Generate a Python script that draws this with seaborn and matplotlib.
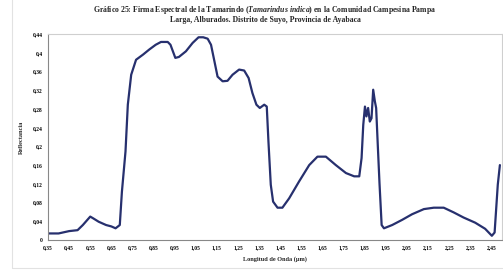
import numpy as np
import pandas as pd
import matplotlib
matplotlib.use("Agg")
import matplotlib.pyplot as plt
from matplotlib.ticker import FuncFormatter, FixedLocator
from matplotlib.patches import Rectangle
import seaborn as sns

sns.set_theme(style="white")
plt.rcParams['font.family'] = ['Liberation Serif', 'DejaVu Serif']
plt.rcParams['mathtext.fontset'] = 'custom'
plt.rcParams['mathtext.rm'] = 'Liberation Serif:bold'
plt.rcParams['mathtext.it'] = 'Liberation Serif:italic:bold'

# spectral signature (micrometres, reflectance)
wavelength = [0.35, 0.40, 0.45, 0.49, 0.515, 0.55, 0.565, 0.59, 0.625, 0.65,
              0.67, 0.69, 0.70, 0.717, 0.728, 0.744, 0.767, 0.80, 0.83, 0.86,
              0.885, 0.917, 0.93, 0.953, 0.97, 1.003, 1.035, 1.063, 1.085, 1.106,
              1.122, 1.138, 1.153, 1.177, 1.20, 1.224, 1.255, 1.279, 1.30, 1.318,
              1.337, 1.353, 1.374, 1.386, 1.394, 1.405, 1.416, 1.437, 1.46, 1.492,
              1.539, 1.587, 1.626, 1.666, 1.713, 1.761, 1.80, 1.824, 1.835, 1.843,
              1.851, 1.858, 1.866, 1.874, 1.882, 1.890, 1.898, 1.904, 1.912, 1.920,
              1.930, 1.941, 1.98, 2.027, 2.074, 2.13, 2.177, 2.224, 2.271, 2.318,
              2.373, 2.42, 2.452, 2.465, 2.48, 2.49]
reflectance = [0.014, 0.014, 0.019, 0.021, 0.032, 0.050, 0.046, 0.039, 0.032, 0.029,
               0.025, 0.032, 0.103, 0.189, 0.289, 0.353, 0.385, 0.396, 0.407, 0.417,
               0.423, 0.423, 0.417, 0.389, 0.391, 0.403, 0.421, 0.433, 0.433, 0.430,
               0.417, 0.382, 0.349, 0.339, 0.340, 0.353, 0.364, 0.362, 0.346, 0.314,
               0.289, 0.282, 0.289, 0.285, 0.210, 0.118, 0.082, 0.069, 0.069, 0.089,
               0.125, 0.160, 0.178, 0.178, 0.160, 0.143, 0.136, 0.136, 0.175, 0.246,
               0.285, 0.264, 0.282, 0.253, 0.260, 0.321, 0.296, 0.282, 0.200, 0.120,
               0.032, 0.025, 0.032, 0.043, 0.055, 0.066, 0.069, 0.069, 0.059, 0.048,
               0.037, 0.024, 0.009, 0.016, 0.118, 0.160]

x_ticks = [0.35, 0.45, 0.55, 0.65, 0.75, 0.85, 0.95, 1.05, 1.15, 1.25, 1.35,
           1.45, 1.55, 1.65, 1.75, 1.85, 1.95, 2.05, 2.15, 2.25, 2.35, 2.45]
y_ticks = [0, 0.04, 0.08, 0.12, 0.16, 0.2, 0.24, 0.28, 0.32, 0.36, 0.4, 0.44]

df = pd.DataFrame({'wl': wavelength, 'refl': reflectance})

fig = plt.figure(figsize=(5.03, 2.73), dpi=100)
ax = fig.add_axes([48/503, 33/273, 454/503, 206/273])

sns.lineplot(data=df, x='wl', y='refl', ax=ax, color='#27306e', linewidth=1.6)

ax.set_xlim(0.35, 2.5)
ax.set_ylim(0, 0.44)
ax.xaxis.set_major_locator(FixedLocator(x_ticks))
ax.yaxis.set_major_locator(FixedLocator(y_ticks))
comma = FuncFormatter(lambda v, p: ('%g' % round(v, 2)).replace('.', ','))
ax.xaxis.set_major_formatter(comma)
ax.yaxis.set_major_formatter(comma)
ax.tick_params(axis='both', labelsize=4, length=2, width=0.6, pad=2, colors='#555555')
for lab in ax.get_xticklabels() + ax.get_yticklabels():
    lab.set_fontweight('bold')
    lab.set_color('black')

for side in ['top', 'right']:
    ax.spines[side].set_color('#cfcfcf')
    ax.spines[side].set_linewidth(0.8)
for side in ['left', 'bottom']:
    ax.spines[side].set_color('#888888')
    ax.spines[side].set_linewidth(0.8)

ax.set_xlabel('Longitud de Onda (µm)', fontsize=4.5, fontweight='bold', labelpad=4)
ax.set_ylabel('Reflectancia', fontsize=4.5, fontweight='bold', labelpad=6)

fig.text(265/503, 1 - 10/273,
         'Gráfico 25: Firma Espectral de la Tamarindo ($\\it{Tamarindus\\ indica}$) en la Comunidad Campesina Pampa',
         ha='center', va='center', fontsize=5.6, fontweight='bold')
fig.text(265/503, 1 - 20/273,
         'Larga, Alburados. Distrito de Suyo, Provincia de Ayabaca',
         ha='center', va='center', fontsize=5.6, fontweight='bold')

# light chart-area frame
fig.patches.append(Rectangle((12/503, 5/273), 1.0, 1.0, transform=fig.transFigure,
                             fill=False, edgecolor='#e2e2e2', linewidth=0.8))

fig.savefig('out.png', dpi=100)
